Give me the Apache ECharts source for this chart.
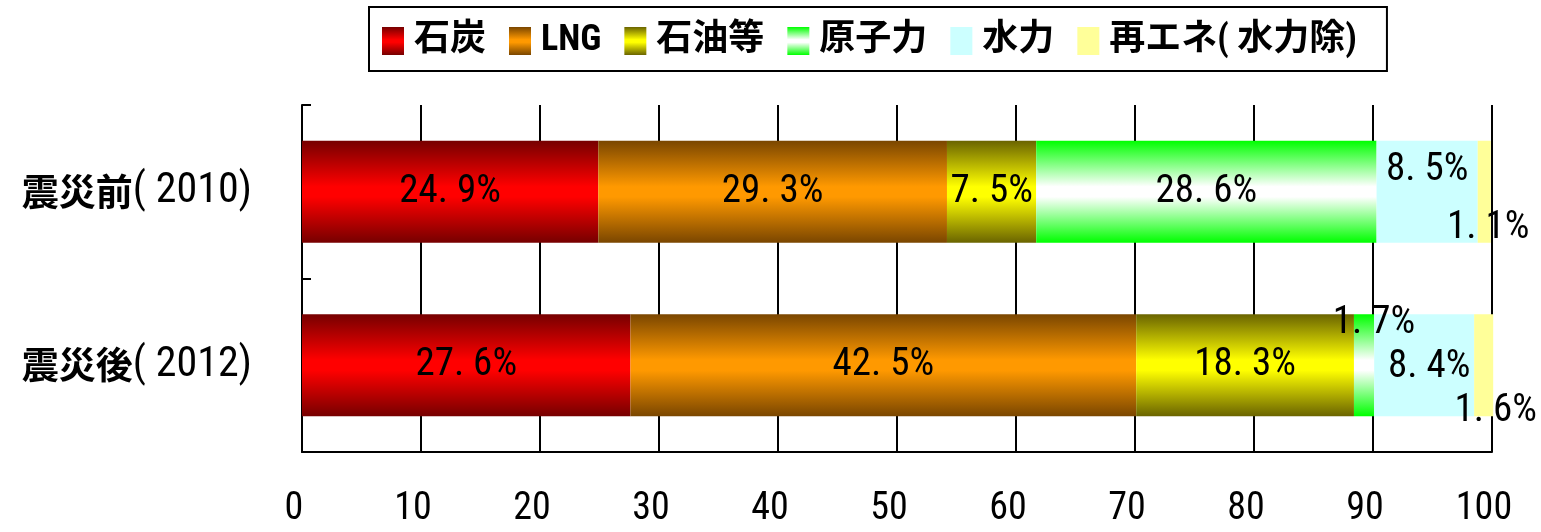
<!DOCTYPE html>
<html>
<head>
<meta charset="utf-8">
<script src="https://cdn.jsdelivr.net/npm/echarts@6/dist/echarts.min.js"></script>
<style>
html,body{margin:0;padding:0;background:#fff;}
#chart{width:1541px;height:532px;}
</style>
</head>
<body>
<div id="chart"></div>
<script>
// ---- data ----
const categories = ['震災前( 2010)', '震災後( 2012)'];
const seriesNames = ['石炭', 'LNG', '石油等', '原子力', '水力', '再エネ( 水力除)'];
const coal    = [24.9, 27.6];
const lng     = [29.3, 42.5];
const oil     = [7.5, 18.3];
const nuclear = [28.6, 1.7];
const hydro   = [8.5, 8.4];
const renew   = [1.1, 1.6];
const values = [coal, lng, oil, nuclear, hydro, renew];

// ---- styles ----
const NUM_FONT = '"Roboto Condensed", "Liberation Sans Narrow", "DejaVu Sans Condensed", "Noto Sans CJK JP", sans-serif';
const CJK_FONT = '"Noto Sans CJK JP", sans-serif';
function grad(edge, mid) {
  return new echarts.graphic.LinearGradient(0, 0, 0, 1, [
    { offset: 0, color: edge },
    { offset: 0.45, color: mid },
    { offset: 0.55, color: mid },
    { offset: 1, color: edge }
  ]);
}
const fills = [
  grad('#760000', '#ff0000'),
  grad('#7a4600', '#ff9900'),
  grad('#6a6400', '#ffff00'),
  grad('#00ff00', '#ffffff'),
  '#ccffff',
  '#ffff99'
];
// per-series, per-category label offsets (layout only)
const labelOffsets = [
  [[0, 0], [0, 0]],
  [[0, 0], [0, 0]],
  [[0, 0], [0, 0]],
  [[0, 0], [10, -42]],
  [[0, -22], [5, 2]],
  [[4, 36], [12, 46]]
];

function fmt(v) {
  return v.toFixed(1).replace('.', '. ') + '%';
}

const series = seriesNames.map((name, si) => ({
  name: name,
  type: 'bar',
  stack: 'total',
  barWidth: 102,
  clip: false,
  itemStyle: { color: fills[si] },
  data: values[si].map((v, ci) => ({
    value: v,
    label: { offset: labelOffsets[si][ci] }
  })),
  label: {
    show: true,
    position: 'inside',
    color: '#000',
    fontFamily: NUM_FONT,
    fontSize: 39,
    formatter: p => fmt(p.value)
  }
}));

const chart = echarts.init(document.getElementById('chart'));
chart.setOption({
  animation: false,
  backgroundColor: '#fff',
  legend: {
    data: seriesNames,
    left: 369,
    top: 7,
    orient: 'horizontal',
    icon: 'rect',
    itemWidth: 22,
    itemHeight: 28,
    itemGap: 23,
    padding: [16, 30, 12, 13],
    borderColor: '#000',
    borderWidth: 2,
    selectedMode: false,
    textStyle: {
      fontFamily: NUM_FONT,
      fontSize: 36,
      fontWeight: 'bold',
      color: '#000',
      padding: [0, 0, 0, 5]
    }
  },
  grid: { left: 302, right: 49, top: 105, bottom: 80, containLabel: false },
  xAxis: {
    type: 'value',
    min: 0,
    max: 100,
    interval: 10,
    axisLine: { show: true, lineStyle: { color: '#000', width: 2 } },
    axisTick: { show: false },
    splitLine: { show: true, lineStyle: { color: '#000', width: 2 } },
    axisLabel: {
      color: '#000',
      fontFamily: NUM_FONT,
      fontSize: 38,
      margin: 38,
      padding: [0, 16, 0, 0]
    }
  },
  yAxis: {
    type: 'category',
    data: categories,
    inverse: true,
    axisLine: { show: true, lineStyle: { color: '#000', width: 2 } },
    axisTick: { show: true, inside: true, length: 9, lineStyle: { color: '#000', width: 2 } },
    axisLabel: {
      margin: 50,
      color: '#000',
      formatter: v => {
        const i = v.indexOf('(');
        return '{c|' + v.slice(0, i) + '}{n|' + v.slice(i) + '}';
      },
      rich: {
        c: { fontFamily: CJK_FONT, fontWeight: 'bold', fontSize: 37, color: '#000' },
        n: { fontFamily: NUM_FONT, fontSize: 42, color: '#000' }
      }
    }
  },
  series: series
});
</script>
</body>
</html>
